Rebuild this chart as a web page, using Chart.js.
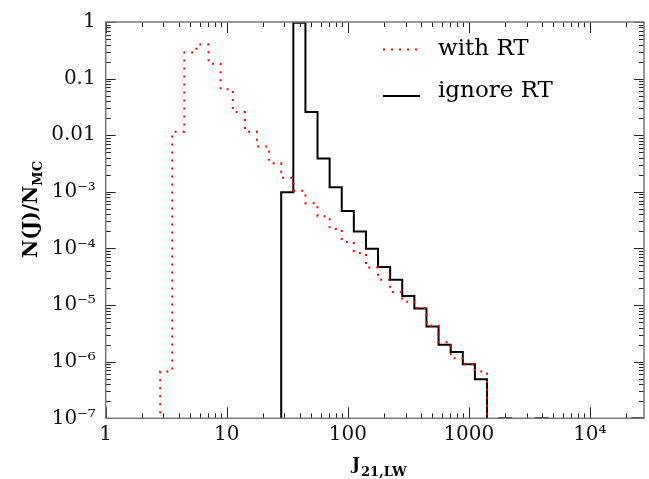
<!DOCTYPE html>
<html>
<head>
<meta charset="utf-8">
<script src="https://cdn.jsdelivr.net/npm/chart.js@4.4.0/dist/chart.umd.min.js"></script>
<style>
  body { margin: 0; background: #fff; }
  #wrap { width: 649px; height: 479px; position: relative; }
</style>
</head>
<body>
<div id="wrap"><canvas id="histChart"></canvas></div>
<script>
// bin edges in J_21,LW (0.1 dex bins)
const binEdges = [2.818, 3.548, 4.467, 5.623, 7.079, 8.913, 11.22, 14.13, 17.78, 22.39,
  28.18, 35.48, 44.67, 56.23, 70.79, 89.13, 112.2, 141.3, 177.8, 223.9,
  281.8, 354.8, 446.7, 562.3, 707.9, 891.3, 1122, 1413, 1778, 2239,
  2818, 3548, 4467, 5623, 7079, 8913, 11220, 14125, 17783, 22387, 28184];

// N(J)/N_MC per bin (0 = empty bin)
const withRT = [6.7e-7, 0.0115, 0.29, 0.40, 0.183, 0.065, 0.0256, 0.0115, 0.0063, 0.0032,
  0.00178, 1.05e-3, 6.3e-4, 3.7e-4, 2.2e-4, 1.3e-4, 8.3e-5, 4.6e-5, 2.8e-5, 1.7e-5,
  1.15e-5, 8.9e-6, 4.3e-6, 2.2e-6, 1.15e-6, 9e-7, 6.7e-7];

const ignoreRT = [0, 0, 0, 0, 0, 0, 0, 0, 0, 0,
  9.8e-4, 0.97, 0.0256, 0.0039, 0.0012, 4.6e-4, 2.0e-4, 9.9e-5, 4.7e-5, 2.8e-5,
  1.44e-5, 8.7e-6, 4.2e-6, 2.0e-6, 1.48e-6, 9e-7, 4.9e-7, 0, 1e-7, 0,
  0, 1e-7, 0, 0, 0, 0, 0, 0, 0, 1e-7];

const seriesLabels = ['with RT', 'ignore RT'];

const FLOOR = 1e-12; // empty bins fall off the bottom of the log axis

Chart.defaults.font.family = '"DejaVu Serif", serif';
Chart.defaults.color = '#111';

// turn bin values into step outline points
function histPoints(values) {
  const pts = [{x: binEdges[0], y: FLOOR}];
  values.forEach((v, i) => {
    const y = v > 0 ? v : FLOOR;
    pts.push({x: binEdges[i], y: y});
    pts.push({x: binEdges[i + 1], y: y});
  });
  pts.push({x: binEdges[values.length], y: FLOOR});
  return pts;
}

const supMap = {'-': '\u207B', '0': '\u2070', '1': '\u00B9', '2': '\u00B2', '3': '\u00B3',
  '4': '\u2074', '5': '\u2075', '6': '\u2076', '7': '\u2077', '8': '\u2078', '9': '\u2079'};
function sup(n) {
  return String(n).split('').map(c => supMap[c]).join('');
}

function decadeOf(v) {
  const lg = Math.log10(v);
  const e = Math.round(lg);
  return Math.abs(lg - e) < 1e-6 ? e : null;
}

function isNice(v) {
  const m = v / Math.pow(10, Math.floor(Math.log10(v) + 1e-9));
  return Math.abs(m - Math.round(m)) < 1e-6;
}

// inward ticks on all four sides + grey frame
const frameAndTicks = {
  id: 'frameAndTicks',
  afterDatasetsDraw(chart) {
    const {ctx, chartArea: a} = chart;
    const xs = chart.scales.x, ys = chart.scales.y;
    ctx.save();
    ctx.strokeStyle = '#222';
    ctx.lineWidth = 1;
    ctx.beginPath();
    xs.ticks.forEach(t => {
      if (!isNice(t.value)) return;
      const px = Math.round(xs.getPixelForValue(t.value)) + 0.5;
      const len = decadeOf(t.value) !== null ? 11 : 5;
      ctx.moveTo(px, a.bottom); ctx.lineTo(px, a.bottom - len);
      ctx.moveTo(px, a.top); ctx.lineTo(px, a.top + len);
    });
    ys.ticks.forEach(t => {
      if (!isNice(t.value)) return;
      const py = Math.round(ys.getPixelForValue(t.value)) + 0.5;
      const len = decadeOf(t.value) !== null ? 10 : 5;
      ctx.moveTo(a.left, py); ctx.lineTo(a.left + len, py);
      ctx.moveTo(a.right, py); ctx.lineTo(a.right - len, py);
    });
    ctx.stroke();
    ctx.strokeStyle = '#777';
    ctx.lineWidth = 1.5;
    ctx.strokeRect(a.left, a.top, a.width, a.height);
    ctx.restore();
  }
};

// axis titles with subscripts, and the legend inside the plot
const titlesAndLegend = {
  id: 'titlesAndLegend',
  afterDraw(chart) {
    const ctx = chart.ctx;
    ctx.save();
    ctx.fillStyle = '#000';
    ctx.textAlign = 'left';
    ctx.textBaseline = 'alphabetic';

    // y title
    ctx.save();
    ctx.translate(37, 258);
    ctx.rotate(-Math.PI / 2);
    ctx.font = 'bold 20px "DejaVu Serif"';
    ctx.fillText('N(J)/N', 0, 0);
    let w = ctx.measureText('N(J)/N').width;
    ctx.font = 'bold 13px "DejaVu Serif"';
    ctx.fillText('MC', w, 5);
    ctx.restore();

    // x title
    ctx.font = 'bold 17px "DejaVu Serif"';
    ctx.fillText('J', 352, 469);
    w = ctx.measureText('J').width;
    ctx.font = 'bold 13px "DejaVu Serif"';
    ctx.fillText('21,LW', 352 + w + 1, 476);

    // legend
    const rows = [{lineY: 49.5, textY: 55}, {lineY: 96, textY: 97}];
    chart.data.datasets.forEach((ds, i) => {
      ctx.save();
      ctx.strokeStyle = ds.borderColor;
      ctx.lineWidth = ds.borderWidth;
      ctx.setLineDash(ds.borderDash || []);
      ctx.beginPath();
      ctx.moveTo(383, rows[i].lineY);
      ctx.lineTo(420, rows[i].lineY);
      ctx.stroke();
      ctx.restore();
      ctx.font = '23px "DejaVu Serif"';
      ctx.fillText(ds.label, 438, rows[i].textY);
    });
    ctx.restore();
  }
};

const histChart = new Chart(document.getElementById('histChart'), {
  type: 'line',
  data: {
    datasets: [{
      label: seriesLabels[0],
      data: histPoints(withRT),
      borderColor: '#ff0000',
      borderWidth: 2,
      borderDash: [2, 6],
      pointRadius: 0,
      tension: 0,
      fill: false
    }, {
      label: seriesLabels[1],
      data: histPoints(ignoreRT),
      borderColor: '#000000',
      borderWidth: 2,
      pointRadius: 0,
      tension: 0,
      fill: false
    }]
  },
  options: {
    responsive: true,
    maintainAspectRatio: false,
    animation: false,
    layout: { padding: { left: 5.7, top: 15, right: 5, bottom: 0 } },
    plugins: {
      legend: { display: false },
      tooltip: { enabled: false }
    },
    scales: {
      x: {
        type: 'logarithmic',
        min: 1,
        max: 28000,
        grid: { display: false, drawTicks: false },
        border: { display: false },
        afterFit(scale) { scale.height = 60.7; },
        ticks: {
          autoSkip: false,
          maxRotation: 0,
          padding: 4,
          font: { size: 20 },
          callback: function (v) {
            const e = decadeOf(v);
            if (e === null) return '';
            return e < 4 ? String(Math.pow(10, e)) : '10' + sup(e);
          }
        }
      },
      y: {
        type: 'logarithmic',
        min: 1e-7,
        max: 1,
        grid: { display: false, drawTicks: false },
        border: { display: false },
        afterFit(scale) { scale.width = 100; },
        ticks: {
          autoSkip: false,
          padding: 10,
          font: { size: 20 },
          callback: function (v) {
            const e = decadeOf(v);
            if (e === null) return '';
            if (e === 0) return '1';
            if (e === -1) return '0.1';
            if (e === -2) return '0.01';
            return '10' + sup(e);
          }
        }
      }
    }
  },
  plugins: [frameAndTicks, titlesAndLegend]
});
</script>
</body>
</html>
